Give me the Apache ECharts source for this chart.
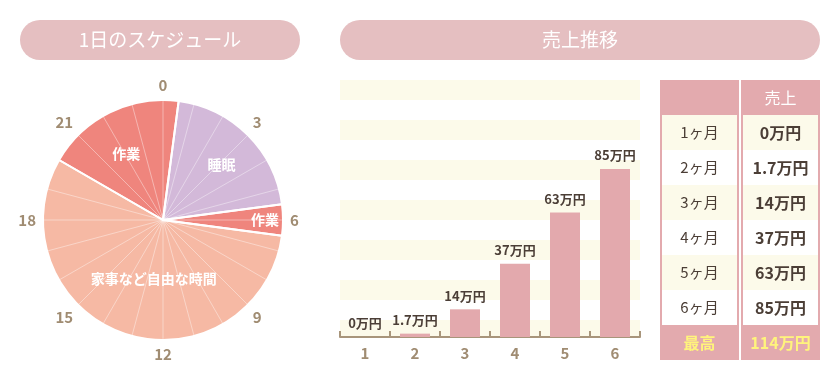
<!DOCTYPE html>
<html>
<head>
<meta charset="utf-8">
<script src="https://cdn.jsdelivr.net/npm/echarts@6/dist/echarts.min.js"></script>
<style>html,body{margin:0;padding:0;background:#fff}#c{width:840px;height:380px}</style>
</head>
<body>
<div id="c"></div>
<script>
// ---- data ----
const titles = ['1日のスケジュール', '売上推移'];
const scheduleNames = ['作業', '睡眠', '作業', '家事など自由な時間'];
const scheduleHours = [4.5, 5, 1, 13.5];
const scheduleStartHour = 20;
const hourMin = 0, hourMax = 24, hourLabelStep = 3;
const categories = ['1', '2', '3', '4', '5', '6'];
const sales = [0, 1.7, 14, 37, 63, 85];
const unit = '万円';
const monthSuffix = 'ヶ月';
const tableHeader = ['', '売上'];
const bestLabel = '最高';
const bestValue = 114;

// ---- styles ----
const FONT = '"Noto Sans CJK JP", "Noto Sans", sans-serif';
const PINK = '#e3aaae';
const PILL = '#e5bfc1';
const CREAM = '#fcfaea';
const BROWN = '#4b3e36';
const AXISC = '#a8957b';
const sliceColors = ['#ef857d', '#d3b9d9', '#ef857d', '#f6b9a4'];
const labelShift = [[-9, -10], [14, -11], [39, 0], [11, -1]];

const pieCenter = [163, 220];
const pieR = 120;
const startAngle = 90 - scheduleStartHour * 360 / hourMax + 360;

const pieData = scheduleNames.map((n, i) => ({
  name: n, value: scheduleHours[i], itemStyle: { color: sliceColors[i] }
}));

// table
const rowKeys = ['h'].concat(categories, ['max']);
const tableData = [];
rowKeys.forEach((k, r) => { [0, 1].forEach(c => tableData.push([c, r])); });
function cellText(c, r) {
  if (r === 0) return tableHeader[c];
  if (r === rowKeys.length - 1) return c === 0 ? bestLabel : bestValue + unit;
  return c === 0 ? categories[r - 1] + monthSuffix : sales[r - 1] + unit;
}

const chart = echarts.init(document.getElementById('c'), null, { renderer: 'canvas' });
chart.setOption({
  backgroundColor: '#ffffff',
  animation: false,
  textStyle: { fontFamily: FONT },
  graphic: [
    { type: 'rect', shape: { x: 20, y: 20, width: 280, height: 40, r: 20 }, style: { fill: PILL } },
    { type: 'text', x: 160, y: 40, style: { text: titles[0], fill: '#fff', font: '19px ' + FONT, align: 'center', verticalAlign: 'middle' } },
    { type: 'rect', shape: { x: 340, y: 20, width: 480, height: 40, r: 20 }, style: { fill: PILL } },
    { type: 'text', x: 580, y: 40, style: { text: titles[1], fill: '#fff', font: '19px ' + FONT, align: 'center', verticalAlign: 'middle' } }
  ],
  polar: { center: pieCenter, radius: pieR },
  angleAxis: {
    type: 'value', min: hourMin, max: hourMax, interval: hourLabelStep,
    startAngle: 90, clockwise: true, z: 3,
    axisLine: { show: false }, axisTick: { show: false },
    minorTick: { show: false, splitNumber: 3 },
    splitLine: { show: true, lineStyle: { color: 'rgba(255,255,255,0.4)', width: 1 } },
    minorSplitLine: { show: true, lineStyle: { color: 'rgba(255,255,255,0.4)', width: 1 } },
    axisLabel: { color: '#a08c72', fontSize: 15, fontWeight: 'bold', margin: 7, fontFamily: FONT,
      formatter: v => (v === hourMax ? '' : String(v)) }
  },
  radiusAxis: { show: false },
  grid: [
    { left: 340, top: 80, width: 300, height: 257 },
    { left: 660, top: 80, width: 160, height: 280 }
  ],
  xAxis: [
    {
      gridIndex: 0, type: 'category', data: categories,
      axisLine: { lineStyle: { color: AXISC, width: 2 } },
      axisTick: { show: true, inside: true, length: 6, lineStyle: { color: AXISC, width: 2 } },
      axisLabel: { color: '#a08c72', fontSize: 15, fontWeight: 'bold', margin: 9, fontFamily: FONT }
    },
    { gridIndex: 1, type: 'category', data: tableHeader.map((_, i) => String(i)), show: false }
  ],
  yAxis: [
    { gridIndex: 0, type: 'value', min: 0, max: 130, show: false, splitLine: { show: false } },
    {
      gridIndex: 0, type: 'value', inverse: true, min: 0, max: 12.85, interval: 1,
      axisLine: { show: false }, axisTick: { show: false }, axisLabel: { show: false },
      splitLine: { show: false },
      splitArea: { show: true, areaStyle: { color: [CREAM, '#ffffff'] } }
    },
    { gridIndex: 1, type: 'category', data: rowKeys, inverse: true, show: false }
  ],
  series: [
    {
      type: 'pie', z: 2, center: pieCenter, radius: pieR, startAngle: startAngle,
      clockwise: true, silent: true, data: pieData,
      label: { show: false }, labelLine: { show: false },
      itemStyle: { borderWidth: 0 }
    },
    {
      type: 'pie', z: 4, center: pieCenter, radius: pieR, startAngle: startAngle,
      clockwise: true, silent: true,
      data: pieData.map(d => ({ name: d.name, value: d.value })),
      itemStyle: { color: 'rgba(0,0,0,0)', borderColor: '#ffffff', borderWidth: 2 },
      label: { show: true, position: 'inside', color: '#ffffff', fontSize: 14, fontWeight: 'bold', fontFamily: FONT, formatter: '{b}' },
      labelLine: { show: false },
      labelLayout: p => ({ dx: labelShift[p.dataIndex][0], dy: labelShift[p.dataIndex][1] })
    },
    {
      type: 'bar', xAxisIndex: 0, yAxisIndex: 0, data: sales, barWidth: 30,
      itemStyle: { color: '#e3a9ad' },
      label: { show: true, position: 'top', distance: 7, color: BROWN, fontSize: 13, fontWeight: 'bold', fontFamily: FONT,
        formatter: p => p.value + unit }
    },
    {
      type: 'custom', xAxisIndex: 1, yAxisIndex: 2, data: tableData, silent: true,
      renderItem: (params, api) => {
        const c = api.value(0), r = api.value(1);
        const p = api.coord([c, r]);
        const s = api.size([1, 1]);
        let x0 = p[0] - s[0] / 2, x1 = p[0] + s[0] / 2;
        const y0 = p[1] - s[1] / 2, h = s[1];
        if (c === 0) x1 -= 1; else x0 += 1;
        const last = rowKeys.length - 1;
        const body = r > 0 && r < last;
        const children = [{ type: 'rect', shape: { x: x0, y: y0, width: x1 - x0, height: h }, style: { fill: PINK } }];
        if (body) {
          children.push({ type: 'rect', shape: { x: x0 + 2, y: y0, width: x1 - x0 - 4, height: h },
            style: { fill: r % 2 === 1 ? CREAM : '#ffffff' } });
        }
        let fill = BROWN, weight = 'normal', size = 15;
        if (r === 0) { fill = '#ffffff'; size = 16; }
        else if (r === last) { fill = '#fff47c'; weight = 'bold'; size = 16; }
        else if (c === 1) { weight = 'bold'; size = 16; }
        children.push({ type: 'text', style: { text: cellText(c, r), x: (x0 + x1) / 2, y: y0 + h / 2,
          align: 'center', verticalAlign: 'middle', fill: fill, fontSize: size, fontWeight: weight, fontFamily: FONT } });
        return { type: 'group', children: children };
      }
    }
  ]
});
</script>
</body>
</html>
